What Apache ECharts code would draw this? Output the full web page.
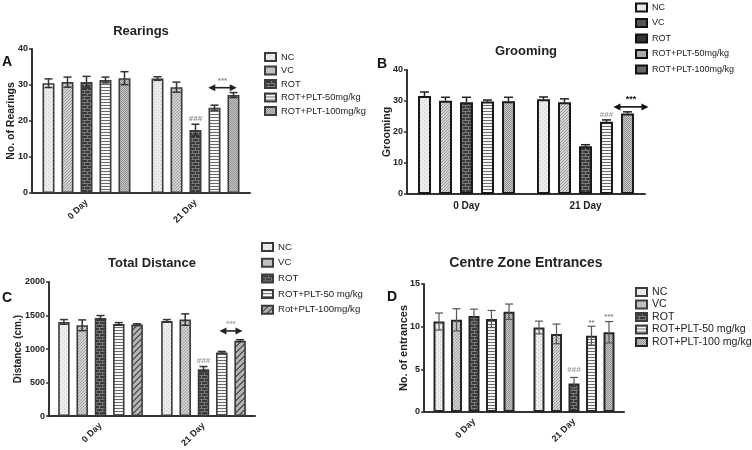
<!DOCTYPE html>
<html><head><meta charset="utf-8">
<script src="https://cdn.jsdelivr.net/npm/echarts@6/dist/echarts.min.js"></script>
<style>html,body{margin:0;padding:0;background:#fff}#c{width:752px;height:450px}</style>
</head><body><div id="c"></div><script>
// ---------------- DATA ----------------
const categories = ['0 Day', '21 Day'];
const groupsA = ['NC', 'VC', 'ROT', 'ROT+PLT-50mg/kg', 'ROT+PLT-100mg/kg'];
const groupsB = ['NC', 'VC', 'ROT', 'ROT+PLT-50mg/kg', 'ROT+PLT-100mg/kg'];
const groupsC = ['NC', 'VC', 'ROT', 'ROT+PLT-50 mg/kg', 'Rot+PLT-100mg/kg'];
const groupsD = ['NC', 'VC', 'ROT', 'ROT+PLT-50 mg/kg', 'ROT+PLT-100 mg/kg'];

// per group: [0 Day, 21 Day]
const rearingsMean = [[30.5, 31.8], [30.8, 29.4], [30.8, 17.5], [31.4, 23.7], [31.9, 27.2]];
const rearingsErr  = [[1.2, 0.5], [1.4, 1.4], [1.6, 1.6], [0.8, 0.7], [1.8, 0.7]];
const groomingMean = [[31.6, 30.6], [30.1, 29.6], [29.6, 15.4], [29.8, 23.3], [29.9, 26.0]];
const groomingErr  = [[1.3, 0.7], [1.1, 1.1], [1.6, 0.5], [0.5, 0.6], [1.3, 0.5]];
const distanceMean = [[1405, 1420], [1355, 1440], [1465, 700], [1375, 950], [1365, 1125]];
const distanceErr  = [[35, 20], [80, 85], [35, 40], [20, 15], [12, 15]];
const entrancesMean = [[10.6, 9.9], [10.8, 9.15], [11.25, 3.35], [10.9, 8.95], [11.75, 9.35]];
const entrancesErr  = [[1.0, 0.75], [1.3, 1.15], [0.8, 0.7], [1.0, 1.1], [0.9, 1.25]];

const yTicksA = [0, 40, 10];
const yTicksB = [0, 40, 10];
const yTicksC = [0, 2000, 500];
const yTicksD = [0, 15, 5];

// significance marks: cat index, bar position, value level
const marksA = [{cat: 1, pos: 2, y: 20.6, text: '###'}, {cat: 1, from: 2.67, to: 4.17, y: 29.25, text: '***'}];
const marksB = [{cat: 1, pos: 3, y: 25.5, text: '###'}, {cat: 1, from: 3.33, to: 5.0, y: 28.1, text: '***'}];
const marksC = [{cat: 1, pos: 2, y: 823, text: '###'}, {cat: 1, from: 2.87, to: 4.13, y: 1270, text: '***'}];
const marksD = [{cat: 1, pos: 2, y: 4.9, text: '###'}, {cat: 1, pos: 3, y: 10.45, text: '**'}, {cat: 1, pos: 4, y: 11.1, text: '***'}];

// ---------------- STYLE HELPERS ----------------
const FONT = '"Liberation Sans", Arial, sans-serif';
function pat(w, h, bg, draw) {
  const c = document.createElement('canvas');
  c.width = w; c.height = h;
  const g = c.getContext('2d');
  g.fillStyle = bg; g.fillRect(0, 0, w, h);
  draw(g);
  return {image: c, repeat: 'repeat'};
}
function dots(bg, fg, w, h, pts) {
  return pat(w, h, bg, g => { g.fillStyle = fg; pts.forEach(p => g.fillRect(p[0], p[1], 1, 1)); });
}
const P = {
  nc: dots('#ededed', '#c6c6c6', 4, 4, [[0, 0], [2, 2]]),
  vc: dots('#d3d3d3', '#9c9c9c', 3, 3, [[0, 0], [1, 2], [2, 1]]),
  rot: pat(6, 6, '#3a3a3a', g => {
    g.fillStyle = '#7a7a7a';
    g.fillRect(0, 0, 6, 1); g.fillRect(0, 3, 6, 1);
    g.fillRect(0, 1, 1, 2); g.fillRect(3, 4, 1, 2);
  }),
  p50: pat(1, 3, '#f6f6f6', g => { g.fillStyle = '#6a6a6a'; g.fillRect(0, 0, 1, 1); }),
  p100: dots('#c6c6c6', '#939393', 2, 2, [[0, 0], [1, 1]]),
  p100c: pat(6, 6, '#b4b4b4', g => {
    g.fillStyle = '#5a5a5a';
    for (let i = 0; i < 6; i++) { g.fillRect(i, 5 - i, 1, 1); g.fillRect((i + 1) % 6, 5 - i, 1, 1); }
  })
};

const panels = [
  {names: groupsA, means: rearingsMean, errs: rearingsErr, ticks: yTicksA, marks: marksA,
   title: 'Rearings', tx: 141, ty: 31, tsize: 13, letter: 'A', lx: 7, ly: 62,
   yName: 'No. of Rearings', yNameGap: 15.5, yNameSize: 10.5,
   grid: {left: 32, top: 49, width: 218, height: 144}, barW: 12, stride: 19, rotate: 45,
   both: true, border: '#3c3c3c', bw: 1.6, axisW: 2, errColor: '#333', errW: 1.5, cap: 8,
   fills: [P.nc, P.vc, P.rot, P.p50, P.p100],
   legend: {left: 264, top: 51, gap: 1.5, size: 9.3},
   markColor: '#888', arrowColor: '#222', starColor: '#888', starSize: 8},
  {names: groupsB, means: groomingMean, errs: groomingErr, ticks: yTicksB, marks: marksB,
   title: 'Grooming', tx: 526, ty: 51, tsize: 13, letter: 'B', lx: 382, ly: 64,
   yName: 'Grooming', yNameGap: 14.5, yNameSize: 10.5,
   grid: {left: 407, top: 70, width: 238, height: 124}, barW: 13, stride: 21, rotate: 0,
   both: false, border: '#1a1a1a', bw: 2, axisW: 2, errColor: '#222', errW: 1.5, cap: 9,
   fills: [P.nc, P.vc, P.rot, P.p50, P.p100],
   legend: {left: 635, top: 1.5, gap: 3.5, size: 9},
   legendOverride: ['#e9e9e9', '#555', '#333', '#aaa', '#666'],
   markColor: '#999', arrowColor: '#111', starColor: '#222', starSize: 9},
  {names: groupsC, means: distanceMean, errs: distanceErr, ticks: yTicksC, marks: marksC,
   title: 'Total Distance', tx: 152, ty: 263, tsize: 13, letter: 'C', lx: 7, ly: 298,
   yName: 'Distance (cm.)', yNameGap: 25.5, yNameSize: 10,
   grid: {left: 49, top: 282, width: 206, height: 136}, barW: 11.5, stride: 18.3, rotate: 45,
   both: true, border: '#3a3a3a', bw: 1.6, axisW: 2, errColor: '#333', errW: 1.5, cap: 8,
   fills: [P.nc, P.vc, P.rot, P.p50, P.p100c],
   legend: {left: 261, top: 241, gap: 3.7, size: 9.6},
   markColor: '#999', arrowColor: '#222', starColor: '#999', starSize: 8},
  {names: groupsD, means: entrancesMean, errs: entrancesErr, ticks: yTicksD, marks: marksD,
   title: 'Centre Zone Entrances', tx: 526, ty: 263, tsize: 14, letter: 'D', lx: 392, ly: 297,
   yName: 'No. of entrances', yNameGap: 14.5, yNameSize: 11,
   grid: {left: 424, top: 284, width: 200, height: 128}, barW: 11, stride: 17.5, rotate: 45,
   both: true, border: '#262626', bw: 2, axisW: 2, errColor: '#555', errW: 1.2, cap: 8,
   fills: [P.nc, P.vc, P.rot, P.p50, P.p100],
   legend: {left: 635, top: 286, gap: 0.5, size: 10.6},
   markColor: '#999', arrowColor: '#222', starColor: '#888', starSize: 8}
];

const grid = [], xAxis = [], yAxis = [], series = [], legend = [], graphic = [];
panels.forEach((p, pi) => {
  grid.push(Object.assign({containLabel: false}, p.grid));
  xAxis.push({type: 'category', gridIndex: pi, data: categories,
    axisLine: {lineStyle: {color: '#333', width: p.axisW}},
    axisTick: {alignWithLabel: true, length: 4, lineStyle: {color: '#333', width: 1.5}},
    axisLabel: {rotate: p.rotate, margin: p.rotate ? 8 : 7, color: '#222', fontFamily: FONT, fontWeight: 'bold',
      fontSize: p.rotate ? 9 : 10},
    splitLine: {show: false}});
  yAxis.push({type: 'value', gridIndex: pi, min: p.ticks[0], max: p.ticks[1], interval: p.ticks[2],
    name: p.yName, nameLocation: 'middle', nameGap: p.yNameGap, nameMoveOverlap: false,
    nameTextStyle: {fontFamily: FONT, fontWeight: 'bold', fontSize: p.yNameSize, color: '#222'},
    axisLine: {show: true, lineStyle: {color: '#333', width: p.axisW}},
    axisTick: {show: true, length: 3, lineStyle: {color: '#333', width: 1.5}},
    axisLabel: {margin: 4, color: '#222', fontFamily: FONT, fontWeight: 'bold', fontSize: 9,
      formatter: v => String(v)},
    splitLine: {show: false}});
  const gap = ((p.stride - p.barW) / p.barW * 100).toFixed(1) + '%';
  p.names.forEach((nm, gi) => {
    series.push({type: 'bar', name: nm, xAxisIndex: pi, yAxisIndex: pi,
      data: p.means[gi], barWidth: p.barW, barGap: gap, silent: true,
      itemStyle: {color: p.fills[gi], borderColor: p.border, borderWidth: p.bw},
      emphasis: {disabled: true}});
  });
  // error bars
  const ed = [];
  p.means.forEach((arr, gi) => arr.forEach((m, ci) => ed.push([ci, m, p.errs[gi][ci], gi])));
  series.push({type: 'custom', xAxisIndex: pi, yAxisIndex: pi, silent: true, z: 5, data: ed,
    encode: {x: 0, y: 1},
    renderItem(params, api) {
      const ci = api.value(0), m = api.value(1), e = api.value(2), gi = api.value(3);
      const c = api.coord([ci, m]);
      const x = c[0] + (gi - 2) * p.stride;
      const yt = api.coord([ci, m + e])[1];
      const yb = p.both ? api.coord([ci, m - e])[1] : c[1];
      const st = {stroke: p.errColor, lineWidth: p.errW};
      const ch = [
        {type: 'line', shape: {x1: x, y1: yt, x2: x, y2: yb}, style: st},
        {type: 'line', shape: {x1: x - p.cap / 2, y1: yt, x2: x + p.cap / 2, y2: yt}, style: st}
      ];
      if (p.both) ch.push({type: 'line', shape: {x1: x - p.cap / 2, y1: yb, x2: x + p.cap / 2, y2: yb}, style: st});
      return {type: 'group', children: ch};
    }});
  // significance marks
  series.push({type: 'custom', xAxisIndex: pi, yAxisIndex: pi, silent: true, z: 6,
    data: p.marks.map(a => [a.cat, a.y]), encode: {x: 0, y: 1},
    renderItem(params, api) {
      const a = p.marks[params.dataIndex];
      const base = api.coord([api.value(0), api.value(1)]);
      const ch = [];
      if (a.from !== undefined) {
        const x1 = base[0] + (a.from - 2) * p.stride, x2 = base[0] + (a.to - 2) * p.stride, y = base[1];
        const col = p.arrowColor;
        ch.push({type: 'line', shape: {x1: x1 + 4, y1: y, x2: x2 - 4, y2: y}, style: {stroke: col, lineWidth: 1.6}});
        ch.push({type: 'polygon', shape: {points: [[x1, y], [x1 + 7, y - 3.5], [x1 + 7, y + 3.5]]}, style: {fill: col}});
        ch.push({type: 'polygon', shape: {points: [[x2, y], [x2 - 7, y - 3.5], [x2 - 7, y + 3.5]]}, style: {fill: col}});
        ch.push({type: 'text', x: (x1 + x2) / 2, y: y - 7,
          style: {text: a.text, fill: p.starColor, font: 'bold ' + p.starSize + 'px ' + FONT,
            align: 'center', verticalAlign: 'middle'}});
      } else {
        const x = base[0] + (a.pos - 2) * p.stride;
        ch.push({type: 'text', x: x, y: base[1],
          style: {text: a.text, fill: a.text === '###' ? p.markColor : p.starColor,
            font: 'bold 8px ' + FONT, align: 'center', verticalAlign: 'middle'}});
      }
      return {type: 'group', children: ch};
    }});
  legend.push({orient: 'vertical', left: p.legend.left, top: p.legend.top, itemGap: p.legend.gap,
    itemWidth: 11, itemHeight: 8, icon: 'rect', selectedMode: false, padding: 0,
    textStyle: {fontFamily: FONT, fontSize: p.legend.size, color: '#222', lineHeight: 12},
    data: p.names.map((nm, gi) => p.legendOverride
      ? {name: nm, itemStyle: {color: p.legendOverride[gi], borderColor: '#111', borderWidth: 2}}
      : {name: nm})});
  graphic.push({type: 'text', x: p.tx, y: p.ty,
    style: {text: p.title, font: 'bold ' + p.tsize + 'px ' + FONT, fill: '#222',
      align: 'center', verticalAlign: 'middle', textAlign: 'center', textVerticalAlign: 'middle'}});
  graphic.push({type: 'text', x: p.lx, y: p.ly,
    style: {text: p.letter, font: 'bold 14px ' + FONT, fill: '#111',
      align: 'center', verticalAlign: 'middle', textAlign: 'center', textVerticalAlign: 'middle'}});
});

const chart = echarts.init(document.getElementById('c'), null, {renderer: 'canvas'});
chart.setOption({animation: false, backgroundColor: '#fff', grid, xAxis, yAxis, series, legend, graphic});
</script></body></html>
